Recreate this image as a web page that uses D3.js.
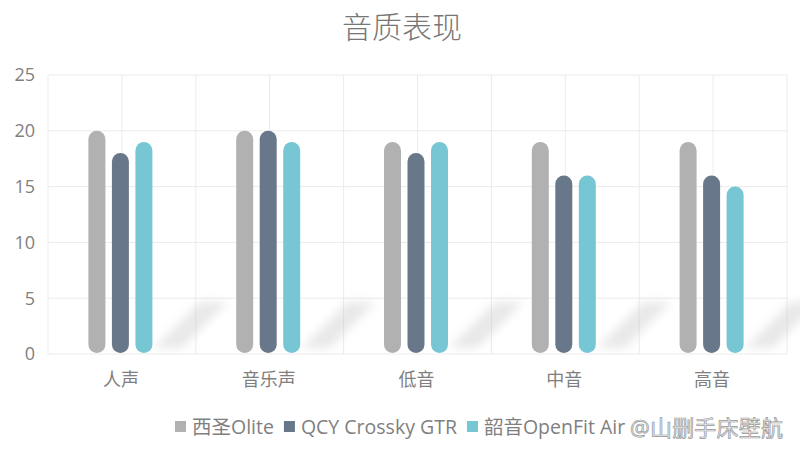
<!DOCTYPE html>
<html><head><meta charset="utf-8">
<script src="https://cdn.jsdelivr.net/npm/d3@7"></script>
<style>body{margin:0;background:#fff}svg{display:block}</style>
</head><body>
<script>
const categories = ["人声","音乐声","低音","中音","高音"];
const seriesNames = ["西圣Olite","QCY Crossky GTR","韶音OpenFit Air"];
const xisheng = [20,20,19,19,19];
const qcy = [18,20,18,16,16];
const shokz = [19,19,19,16,15];
const yTicks = [0,5,10,15,20,25];
const colors = ["#b1b1b1","#68788a","#76c6d4"];
const series = [xisheng, qcy, shokz];

const W=800,H=456;
const m={l:48,r:13,t:75,b:102};
const svg=d3.select("body").append("svg").attr("width",W).attr("height",H);
const font='"Open Sans","Noto Sans CJK SC",sans-serif';
const defs=svg.append("defs");
defs.append("filter").attr("id","blur").attr("x","-50%").attr("y","-50%").attr("width","200%").attr("height","200%")
  .append("feGaussianBlur").attr("stdDeviation",5);

const x=d3.scaleBand().domain(categories).range([m.l,W-m.r]);
const y=d3.scaleLinear().domain([0,25]).range([H-m.b,m.t]);

// grid
const g=svg.append("g");
g.selectAll(".hg").data(yTicks).join("line").attr("x1",m.l).attr("x2",W-m.r)
 .attr("y1",d=>y(d)).attr("y2",d=>y(d)).attr("stroke","#ebebeb").attr("stroke-width",1);
const vx=[];
categories.forEach(c=>{vx.push(x(c));vx.push(x(c)+x.bandwidth()/2);});
vx.push(W-m.r);
g.selectAll(".vg").data(vx).join("line").attr("x1",d=>d).attr("x2",d=>d)
 .attr("y1",m.t).attr("y2",y(0)).attr("stroke","#ebebeb").attr("stroke-width",1);

// y axis labels
svg.append("g").selectAll("text").data(yTicks).join("text")
 .attr("x",35).attr("y",d=>y(d)).attr("dy","0.35em").attr("text-anchor","end")
 .attr("font-family",font).attr("font-size",18).attr("fill","#7f7f7f").text(d=>d);

// inner band
const gw=64;
const xi=d3.scaleBand().domain(d3.range(3)).range([0,gw]).paddingInner(0.277);
const bw=xi.bandwidth();
const off=x.bandwidth()/2-gw/2-1.5;

// shadows
svg.append("g").selectAll("path").data(categories).join("path")
 .attr("d",c=>{const x0=x(c)+x.bandwidth()/2+32, yb=y(0)-6;
   return `M${x0},${yb} L${x0+28},${yb} L${x0+74},${yb-46} L${x0+46},${yb-46} Z`;})
 .attr("fill","#c4c4c4").attr("opacity",0.38).attr("filter","url(#blur)");

// bars
series.forEach((vals,si)=>{
  svg.append("g").selectAll("rect").data(vals).join("rect")
   .attr("x",(d,i)=>x(categories[i])+off+xi(si)).attr("width",bw)
   .attr("y",d=>y(d)).attr("height",d=>y(0)-y(d)-1)
   .attr("rx",bw/2).attr("ry",bw/2).attr("fill",colors[si]);
});

// x labels
svg.append("g").selectAll("text").data(categories).join("text")
 .attr("x",c=>x(c)+x.bandwidth()/2-1).attr("y",y(0)+32).attr("text-anchor","middle")
 .attr("font-family",font).attr("font-size",18).attr("fill","#7f7f7f").text(c=>c);

// title
svg.append("text").attr("x",402).attr("y",38).attr("text-anchor","middle")
 .attr("font-family",font).attr("font-size",30).attr("font-weight",300).attr("fill","#777").text("音质表现");

// legend
const lg=svg.append("g").attr("font-family",font).attr("font-size",19.5).attr("fill","#7f7f7f");
let lx=175;
seriesNames.forEach((n,i)=>{
  lg.append("rect").attr("x",lx).attr("y",421).attr("width",11).attr("height",11).attr("fill",colors[i]);
  const t=lg.append("text").attr("x",lx+17).attr("y",434).text(n);
  lx+=17+t.node().getComputedTextLength()+10;
});

// watermark
svg.append("text").attr("x",630).attr("y",436).attr("font-family",font).attr("font-size",22)
 .attr("fill","#eaeaea").attr("stroke","#999").attr("stroke-width",0.7)
 .attr("textLength",153).text("@山删手床壁航");
</script>
</body></html>
